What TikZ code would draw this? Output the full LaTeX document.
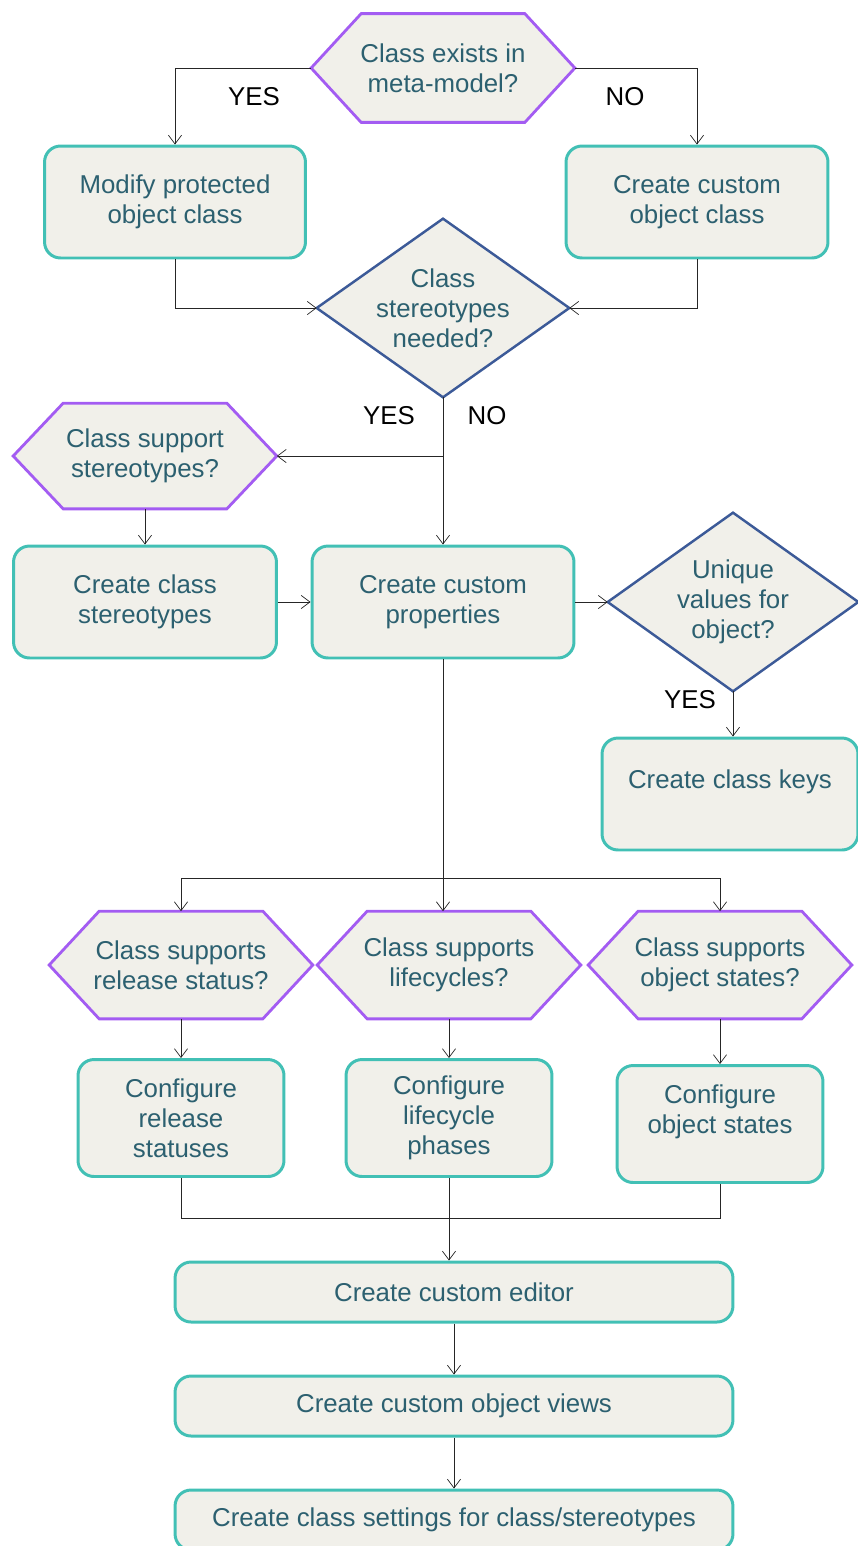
\documentclass[tikz,border=0pt]{standalone}
\usepackage{fontspec}
\setmainfont{Liberation Sans}
\usetikzlibrary{calc,backgrounds,arrows.meta}

\definecolor{boxfill}{HTML}{F1F0EA}
\definecolor{boxline}{HTML}{42C0B5}
\definecolor{hexline}{HTML}{A35CF2}
\definecolor{diamline}{HTML}{3C5A98}
\definecolor{boxtext}{HTML}{2C6070}

\tikzset{
  txt/.style={font=\fontsize{14.7}{17}\selectfont, text=boxtext, align=center, inner sep=0pt},
  procbox/.style={txt, draw=boxline, fill=boxfill, line width=1.7pt, rounded corners=0.32cm},
  midbox/.style={procbox, minimum width=5.24cm, minimum height=2.24cm},
  smallbox/.style={procbox, minimum width=4.12cm, minimum height=2.34cm},
  widebox/.style={procbox, minimum width=11.16cm, minimum height=1.2cm},
  hexa/.style={txt, minimum width=5.26cm, minimum height=2.14cm},
  diam/.style={txt, minimum width=5.04cm, minimum height=3.56cm},
  lbl/.style={font=\fontsize{14.7}{17}\selectfont, inner sep=0pt},
  arr/.style={-{Straight Barb[length=5pt,width=7.5pt]}},
}

% outlines drawn behind the named nodes
\newcommand{\hexoutline}[1]{%
  \begin{pgfonlayer}{background}
    \filldraw[draw=hexline, fill=boxfill, line width=1.6pt]
      (#1.west) -- ($(#1.north west)+(50,0)$) -- ($(#1.north east)+(-50,0)$) -- (#1.east)
      -- ($(#1.south east)+(-50,0)$) -- ($(#1.south west)+(50,0)$) -- cycle;
  \end{pgfonlayer}}
\newcommand{\diamoutline}[1]{%
  \begin{pgfonlayer}{background}
    \filldraw[draw=diamline, fill=boxfill, line width=1.4pt]
      (#1.west) -- (#1.north) -- (#1.east) -- (#1.south) -- cycle;
  \end{pgfonlayer}}

\begin{document}
\begin{tikzpicture}[x=0.02cm, y=-0.02cm, line width=1pt, draw=black!85]
  \useasboundingbox (0,0) rectangle (858,1546);

  % decisions
  \node[hexa, minimum width=5.24cm] (exists) at (443,68) {Class exists in\\meta-model?};
  \hexoutline{exists}
  \node[diam] (needed) at (443,308) {Class\\stereotypes\\needed?};
  \diamoutline{needed}
  \node[hexa, minimum height=2.1cm] (support) at (145,456) {Class support\\stereotypes?};
  \hexoutline{support}
  \node[diam, minimum width=5cm] (unique) at (733,602) {Unique\\values for\\object?};
  \diamoutline{unique}
  \node[hexa] (release) at (181,965) {Class supports\\release status?};
  \hexoutline{release}
  \node[hexa] (lifecyc) at (449,965) {Class supports\\lifecycles?};
  \hexoutline{lifecyc}
  \node[hexa] (states) at (720,965) {Class supports\\object states?};
  \hexoutline{states}

  % process boxes
  \node[midbox, minimum width=5.22cm] (modify) at (175,202) {Modify protected\\object class};
  \node[midbox] (custom) at (697,202) {Create custom\\object class};
  \node[midbox, minimum width=5.26cm] (stereo) at (145,602) {Create class\\stereotypes};
  \node[midbox] (props) at (443,602) {Create custom\\properties};
  \node[midbox, minimum width=5.12cm] (keys) at (730,794) {Create class keys\\~};
  \node[smallbox] (relstat) at (181,1118) {Configure\\release\\statuses};
  \node[smallbox] (phases) at (449,1118) {Configure\\lifecycle\\phases};
  \node[smallbox] (objstat) at (720,1124) {Configure\\object states\\~};
  \node[widebox] (editor) at (454,1292) {Create custom editor};
  \node[widebox] (views) at (454,1406) {Create custom object views};
  \node[widebox] (settings) at (454,1520) {Create class settings for class/stereotypes};

  % connectors
  \draw[arr] (exists.west) -| (modify.north);
  \draw[arr] (exists.east) -| (custom.north);
  \node[lbl] (yes1) at (254,97) {YES};
  \node[lbl] (no1) at (625,97) {NO};
  \draw[arr] (modify.south) |- (needed.west);
  \draw[arr] (custom.south) |- (needed.east);
  \draw[arr] (needed.south) -- (props.north);
  \draw[arr] (needed.south |- support.east) -- (support.east);
  \node[lbl] (yes2) at (389,416) {YES};
  \node[lbl] (no2) at (487,416) {NO};
  \draw[arr] (support.south) -- (stereo.north);
  \draw[arr] (stereo.east) -- (props.west);
  \draw[arr] (props.east) -- (unique.west);
  \draw[arr] (unique.south) -- (unique.south |- keys.north);
  \node[lbl] (yes3) at (690,700) {YES};

  \coordinate (fork) at (443,878);
  \draw (props.south) -- (fork);
  \draw[arr] (fork) -| (release.north);
  \draw[arr] (fork) -| (states.north);
  \draw[arr] (fork) -- (fork |- lifecyc.north);
  \draw[arr] (release.south) -- (relstat.north);
  \draw[arr] (lifecyc.south) -- (phases.north);
  \draw[arr] (states.south) -- (objstat.north);

  \coordinate (join) at (452,1218);
  \draw (relstat.south) |- (join) -| (objstat.south);
  \draw[arr] (phases.south) -- (phases.south |- editor.north);
  \draw[arr] (editor.south) -- (views.north);
  \draw[arr] (views.south) -- (settings.north);
\end{tikzpicture}
\end{document}
